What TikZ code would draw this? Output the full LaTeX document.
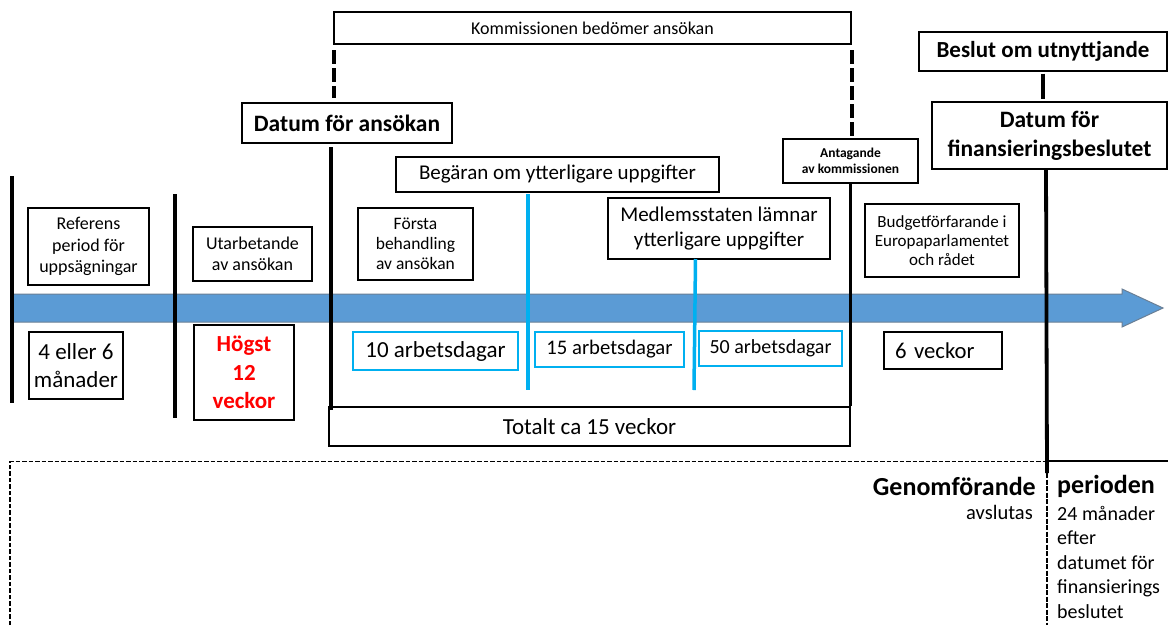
\documentclass[tikz,border=0pt]{standalone}
\usepackage{fontspec}
\setmainfont{Carlito}
\newcommand\myfs[2]{\fontsize{#1}{#2}\selectfont}
\definecolor{cyanline}{HTML}{00B0F0}
\definecolor{arrowblue}{HTML}{5B9BD5}
\definecolor{arrowedge}{HTML}{6A7F95}
\definecolor{redtxt}{HTML}{FF0000}
\tikzset{
  box/.style={draw=black, line width=1.3pt, inner sep=0pt, align=center},
  cbox/.style={draw=cyanline, line width=1.7pt, inner sep=0pt, align=center},
  vline/.style={line width=3.8pt},
  cline/.style={draw=cyanline, line width=3.5pt},
  dline/.style={line width=3.8pt, dash pattern=on 14pt off 4pt},
  thindash/.style={line width=1.2pt, dash pattern=on 4.5pt off 2pt},
}
\begin{document}
\begin{tikzpicture}[x=1pt,y=-1pt]
\useasboundingbox (0,0) rectangle (1168,625);
\fill[white] (0,0) rectangle (1168,625);

% blue time arrow
\draw[fill=arrowblue, draw=arrowedge, line width=1pt]
  (12,294) -- (1122,294) -- (1122,289) -- (1163,308) -- (1122,327) -- (1122,322) -- (12,322) -- cycle;

% top boxes
\node[box, minimum width=517pt, minimum height=32pt, font=\myfs{18}{21}] (kom) at (592.5,28) {Kommissionen bedömer ansökan};
\node[box, minimum width=210pt, minimum height=40pt, font=\bfseries\myfs{23.5}{28}] (datA) at (347,123) {Datum för ansökan};
\node[box, minimum width=323pt, minimum height=35pt, font=\myfs{21}{25}] (beg) at (557.5,174.5) {Begäran om ytterligare uppgifter};
\node[box, minimum width=222pt, minimum height=61pt, font=\myfs{21}{25}] (med) at (719,228.5) {Medlemsstaten lämnar\\ytterligare uppgifter};
\node[box, minimum width=135pt, minimum height=44pt, font=\bfseries\myfs{13.5}{16.5}] (ant) at (850.5,161) {Antagande\\av kommissionen};
\node[box, minimum width=248pt, minimum height=39pt, font=\bfseries\myfs{23}{28}] (bes) at (1043,51.5) {Beslut om utnyttjande};
\node[box, minimum width=235pt, minimum height=67pt, font=\bfseries\myfs{23.5}{29}] (datF) at (1049.5,135.5) {Datum för\\finansieringsbeslutet};

% boxes above the arrow
\node[box, minimum width=121pt, minimum height=77pt, font=\myfs{18}{21.5}] (ref) at (88.5,246.5) {Referens\\period för\\uppsägningar};
\node[box, minimum width=119pt, minimum height=54pt, font=\myfs{18}{21}] (uta) at (252.5,254) {Utarbetande\\av ansökan};
\node[box, minimum width=115pt, minimum height=72pt, font=\myfs{17.5}{20}] (fors) at (415.5,244) {Första\\behandling\\av ansökan};
\node[box, minimum width=154pt, minimum height=73pt, font=\myfs{17}{19}] (bud) at (942,240.5) {Budgetförfarande i\\Europaparlamentet\\och rådet};

% boxes below the arrow
\node[box, minimum width=94pt, minimum height=67pt, font=\myfs{23}{27.5}] (m46) at (76,365.5) {4 eller 6\\månader};
\node[box, minimum width=100pt, minimum height=95pt, font=\bfseries\myfs{23}{28.5}, text=redtxt] (hog) at (244,372.5) {Högst\\12\\veckor};
\node[cbox, minimum width=165pt, minimum height=38pt, font=\myfs{23}{27}] (a10) at (435.5,351) {10 arbetsdagar};
\node[cbox, minimum width=149pt, minimum height=35pt, font=\myfs{20.7}{25}] (a15) at (609.5,349.5) {15 arbetsdagar};
\node[cbox, minimum width=143pt, minimum height=35pt, font=\myfs{20}{24}] (a50) at (770.5,348.5) {50 arbetsdagar};
\node[box, minimum width=118pt, minimum height=37pt, inner xsep=11pt, text width=96pt, align=left, font=\myfs{22.7}{27}] (v6) at (943,350.5) {6 veckor};
\node[box, minimum width=521pt, minimum height=39pt, font=\myfs{23}{27}] (tot) at (589.5,426.5) {Totalt ca 15 veckor};

% coordinates for the time markers
\coordinate (l1a) at (12,176);  \coordinate (l1b) at (12,403);
\coordinate (l2a) at (175,194); \coordinate (l2b) at (175,418);
\coordinate (l3a) at (331,147); \coordinate (l3b) at (331,410);
\coordinate (d1a) at (334,50);  \coordinate (d1b) at (334,98);
\coordinate (d2a) at (852,50);  \coordinate (d2b) at (852,139);
\coordinate (c1a) at (528,194); \coordinate (c1b) at (528,390);
\coordinate (c2a) at (695.5,259); \coordinate (c2b) at (694,390);
\coordinate (l5a) at (1046,169); \coordinate (l5b) at (1047,473); \coordinate (l5c) at (1047,625);

% markers
\draw[vline] (l1a) -- (l1b);
\draw[vline] (l2a) -- (l2b);
\draw[vline] (l3a) -- (l3b);
\draw[dline] (d1a) -- (d1b);
\draw[dline] (d2a) -- (d2b);
\draw[cline] (c1a) -- (c1b);
\draw[cline] (c2a) -- (c2b);
\draw[vline] (ant.south) -- (ant.south |- tot.north);
\draw[vline, shorten <=2pt, shorten >=2pt] (bes.south) -- (bes.south |- datF.north);
\draw[vline] (l5a) -- (l5b);
\draw[line width=2.2pt, dash pattern=on 5pt off 1.5pt] (l5b) -- (l5c);

% implementation period frame
\coordinate (f1) at (10,625); \coordinate (f2) at (10,461.5); \coordinate (f3) at (1046,461.5); \coordinate (f4) at (1168,461);
\draw[thindash] (f1) -- (f2) -- (f3);
\draw[line width=1.3pt] (f3 |- f4) -- (f4);

\node[anchor=base east, inner sep=0pt, font=\bfseries\myfs{26}{30}] (gen) at (1036,495) {Genomförande};
\node[anchor=base east, inner sep=0pt, font=\myfs{20.5}{24.5}] (avs) at (1033,519) {avslutas};
\node[anchor=base west, inner sep=0pt, font=\bfseries\myfs{26}{30}] (per) at (1057,493) {perioden};
\node[anchor=north west, inner sep=0pt, align=left, font=\myfs{20}{24.5}] (man) at (1057,506) {24 månader\\efter\\datumet för\\finansierings\\beslutet};
\end{tikzpicture}
\end{document}
